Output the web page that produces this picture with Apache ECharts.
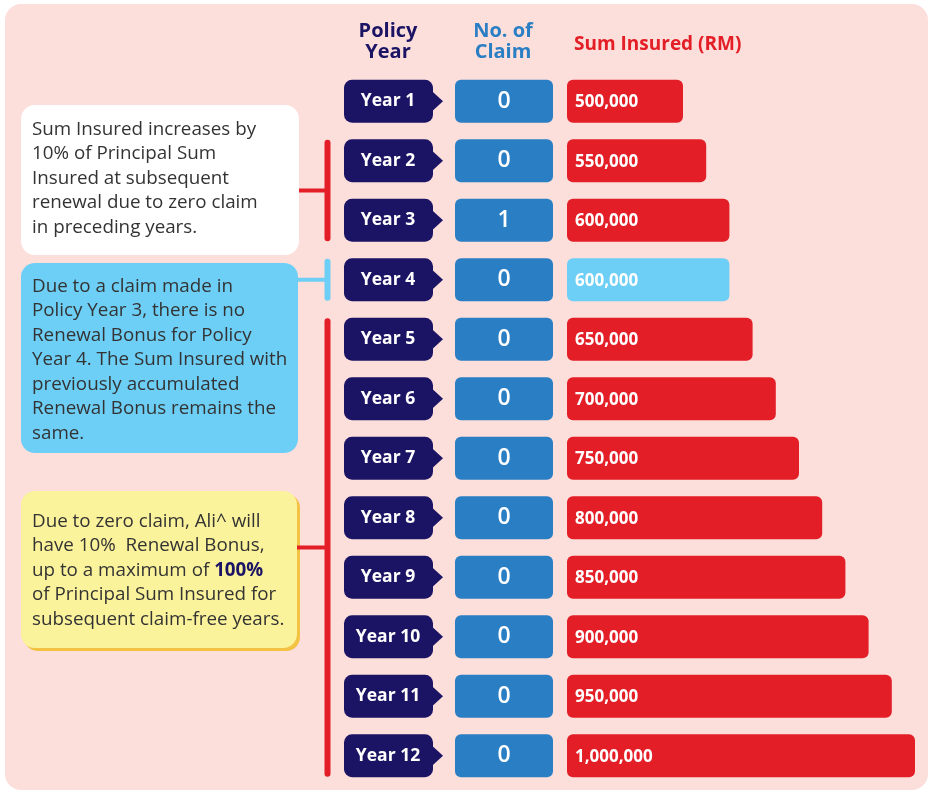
<!DOCTYPE html>
<html>
<head>
<meta charset="utf-8">
<script src="https://cdn.jsdelivr.net/npm/echarts@6/dist/echarts.min.js"></script>
<style>
  html, body { margin: 0; padding: 0; background: #fff; }
  #chart { width: 930px; height: 792px; }
</style>
</head>
<body>
<div id="chart"></div>
<script>
// data
var years = ['Year 1', 'Year 2', 'Year 3', 'Year 4', 'Year 5', 'Year 6', 'Year 7', 'Year 8', 'Year 9', 'Year 10', 'Year 11', 'Year 12'];
var claims = [0, 0, 1, 0, 0, 0, 0, 0, 0, 0, 0, 0];
var sumInsured = [500000, 550000, 600000, 600000, 650000, 700000, 750000, 800000, 850000, 900000, 950000, 1000000];
var headers = ['Policy\nYear', 'No. of\nClaim', 'Sum Insured (RM)'];

// note boxes on the left, each tied to a range of rows
var noteRows = [[1, 2], [3, 3], [4, 11]];
var noteTexts = [
  'Sum Insured increases by\n10% of Principal Sum\nInsured at subsequent\nrenewal due to zero claim\nin preceding years.',
  'Due to a claim made in\nPolicy Year 3, there is no\nRenewal Bonus for Policy\nYear 4. The Sum Insured with\npreviously accumulated\nRenewal Bonus remains the\nsame.',
  'Due to zero claim, Ali^ will\nhave 10%  Renewal Bonus,\nup to a maximum of {b|100%}\nof Principal Sum Insured for\nsubsequent claim-free years.'
];

var NAVY = '#1b1464', BLUE = '#2a7fc4', RED = '#e31e26', SKY = '#6dcff6', TXT = '#333333';
var FONT = '"Open Sans", "Noto Sans", sans-serif';
var xMin = 250000;

var chart = echarts.init(document.getElementById('chart'));

function rowBox(api, i) {
  var p = api.coord([xMin, i]);
  var h = api.size([0, 1])[1] * 0.72;
  return { y: p[1] - h / 2, h: h, cy: p[1], x0: p[0] };
}

function renderYear(params, api) {
  var b = rowBox(api, params.dataIndex);
  return {
    type: 'group',
    children: [
      { type: 'rect', shape: { x: 344, y: b.y, width: 89, height: b.h, r: 8 }, style: { fill: NAVY } },
      { type: 'polygon', shape: { points: [[431, b.cy - 11], [443, b.cy], [431, b.cy + 11]] }, style: { fill: NAVY } },
      { type: 'text', style: { text: years[params.dataIndex], x: 388, y: b.cy, align: 'center', verticalAlign: 'middle',
          fill: '#fff', font: 'bold 17.5px ' + FONT } }
    ]
  };
}

function renderClaim(params, api) {
  var b = rowBox(api, params.dataIndex);
  return {
    type: 'group',
    children: [
      { type: 'rect', shape: { x: 455, y: b.y, width: 98, height: b.h, r: 6 }, style: { fill: BLUE } },
      { type: 'text', style: { text: String(api.value(2)), x: 504, y: b.cy, align: 'center', verticalAlign: 'middle',
          fill: '#fff', font: '600 23px ' + FONT } }
    ]
  };
}

function renderSum(params, api) {
  var i = params.dataIndex;
  var start = api.coord([xMin, i]);
  var end = api.coord([api.value(0), i]);
  var h = api.size([0, 1])[1] * 0.72;
  var same = i > 0 && sumInsured[i] === sumInsured[i - 1];  // no renewal bonus that year
  return {
    type: 'group',
    children: [
      { type: 'rect', shape: { x: start[0], y: start[1] - h / 2, width: end[0] - start[0], height: h, r: 6 },
        style: { fill: same ? SKY : RED } },
      { type: 'text', style: { text: echarts.format.addCommas(api.value(0)), x: start[0] + 8, y: start[1] + 1,
          align: 'left', verticalAlign: 'middle', fill: '#fff', font: 'bold 17px ' + FONT } }
    ]
  };
}

chart.setOption({
  animation: false,
  grid: { left: 567, right: 15, top: 71.5, height: 714 },
  xAxis: { type: 'value', min: xMin, max: 1000000, show: false },
  yAxis: { type: 'category', data: years, inverse: true, show: false },
  series: [
    { type: 'custom', clip: false, renderItem: renderYear, data: years.map(function (y, i) { return [xMin, i]; }) },
    { type: 'custom', clip: false, renderItem: renderClaim, data: claims.map(function (c, i) { return [xMin, i, c]; }) },
    { type: 'custom', clip: false, renderItem: renderSum, data: sumInsured.map(function (v, i) { return [v, i]; }) }
  ]
});

// background panel, headers, note boxes and brackets
var g = [];
g.push({ type: 'rect', z: -10, shape: { x: 5, y: 4, width: 923, height: 786, r: 16 }, style: { fill: '#fcdedb' } });

var h1 = headers[0].split('\n'), h2 = headers[1].split('\n');
g.push({ type: 'text', style: { text: h1[0], x: 388, y: 31, align: 'center', verticalAlign: 'middle', fill: NAVY, font: 'bold 20px ' + FONT } });
g.push({ type: 'text', style: { text: h1[1], x: 388, y: 52, align: 'center', verticalAlign: 'middle', fill: NAVY, font: 'bold 20px ' + FONT } });
g.push({ type: 'text', style: { text: h2[0], x: 503, y: 31, align: 'center', verticalAlign: 'middle', fill: BLUE, font: 'bold 20px ' + FONT } });
g.push({ type: 'text', style: { text: h2[1], x: 503, y: 52, align: 'center', verticalAlign: 'middle', fill: BLUE, font: 'bold 20px ' + FONT } });
g.push({ type: 'text', style: { text: headers[2], x: 574, y: 45, align: 'left', verticalAlign: 'middle', fill: RED, font: 'bold 19px ' + FONT } });

var boxes = [
  { x: 21, y: 105, w: 278, h: 150, fill: '#ffffff', line: RED, textTop: 117 },
  { x: 21, y: 263, w: 277, h: 190, fill: SKY, line: SKY, textTop: 274 },
  { x: 21, y: 491, w: 276, h: 157, fill: '#fbf39c', line: RED, textTop: 509, shadow: '#f4c243' }
];
var bx = 327.5;
boxes.forEach(function (b, k) {
  if (b.shadow) g.push({ type: 'rect', shape: { x: b.x + 3, y: b.y + 3, width: b.w, height: b.h, r: 14 }, style: { fill: b.shadow } });
  g.push({ type: 'rect', shape: { x: b.x, y: b.y, width: b.w, height: b.h, r: 14 }, style: { fill: b.fill } });
  g.push({ type: 'text', style: {
    text: noteTexts[k], x: 32, y: b.textTop, align: 'left', verticalAlign: 'top',
    fill: TXT, font: '18.8px ' + FONT, lineHeight: 24.5,
    rich: { b: { fill: NAVY, font: 'bold 18.8px ' + FONT, lineHeight: 24.5 } }
  } });
  var top = chart.convertToPixel({ seriesIndex: 2 }, [xMin, noteRows[k][0]])[1] - 18;
  var bot = chart.convertToPixel({ seriesIndex: 2 }, [xMin, noteRows[k][1]])[1] + 18;
  var mid = (top + bot) / 2;
  g.push({ type: 'line', shape: { x1: bx, y1: top, x2: bx, y2: bot }, style: { stroke: b.line, lineWidth: 6, lineCap: 'round' } });
  g.push({ type: 'line', shape: { x1: b.x + b.w, y1: mid, x2: bx, y2: mid }, style: { stroke: b.line, lineWidth: 4 } });
});

chart.setOption({ graphic: g });
</script>
</body>
</html>
